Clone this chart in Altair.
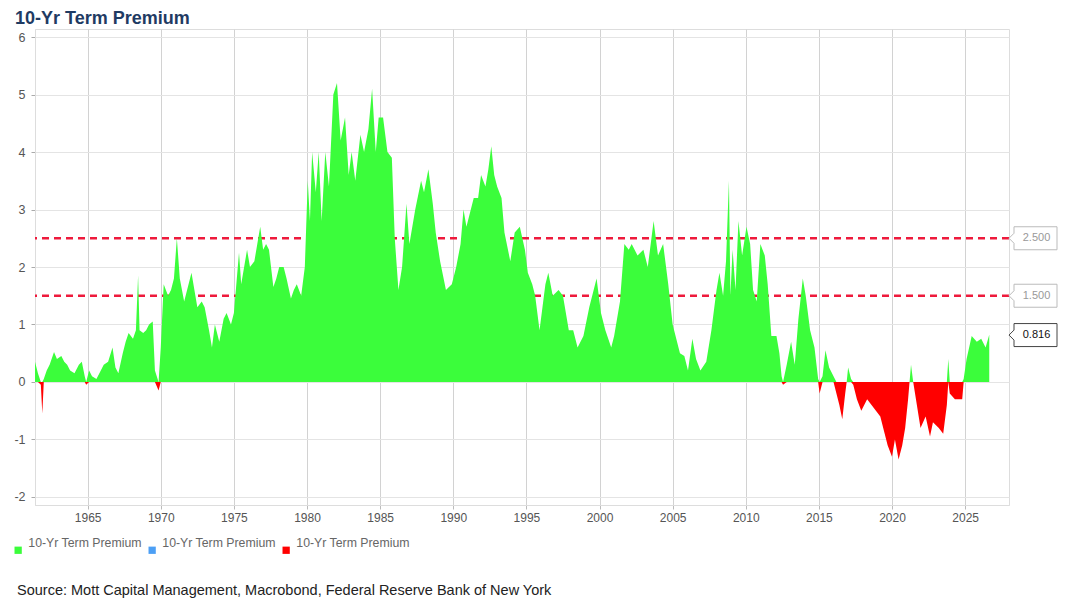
import altair as alt
import pandas as pd

years = [
    1961.4, 1961.6, 1961.8, 1961.9, 1962.0, 1962.2, 1962.4, 1962.7, 1962.9, 1963.2,
    1963.4, 1963.6, 1963.8, 1964.1, 1964.4, 1964.6, 1964.8, 1964.9, 1965.1, 1965.3,
    1965.6, 1965.9, 1966.1, 1966.4, 1966.7, 1966.9, 1967.1, 1967.4, 1967.6, 1967.8,
    1968.1, 1968.3, 1968.45, 1968.55, 1968.8, 1969.0, 1969.2, 1969.45, 1969.6, 1969.85,
    1970.0, 1970.2, 1970.5, 1970.7, 1970.9, 1971.1, 1971.3, 1971.6, 1971.8, 1972.1,
    1972.3, 1972.5, 1972.8, 1973.0, 1973.3, 1973.5, 1973.7, 1974.0, 1974.3, 1974.5,
    1974.8, 1975.0, 1975.2, 1975.35, 1975.5, 1975.9, 1976.1, 1976.4, 1976.6, 1976.8,
    1977.0, 1977.2, 1977.4, 1977.7, 1977.9, 1978.1, 1978.4, 1978.6, 1978.9, 1979.1,
    1979.3, 1979.6, 1979.85, 1980.05, 1980.2, 1980.35, 1980.6, 1980.8, 1981.0, 1981.25,
    1981.5, 1981.8, 1982.05, 1982.3, 1982.6, 1982.85, 1983.05, 1983.3, 1983.65, 1983.9,
    1984.2, 1984.45, 1984.7, 1984.9, 1985.2, 1985.5, 1985.8, 1986.0, 1986.25, 1986.5,
    1986.8, 1987.0, 1987.4, 1987.8, 1988.0, 1988.3, 1988.6, 1988.8, 1989.1, 1989.5,
    1989.9, 1990.2, 1990.5, 1990.7, 1990.9, 1991.1, 1991.4, 1991.7, 1991.9, 1992.2,
    1992.4, 1992.6, 1992.8, 1993.0, 1993.3, 1993.5, 1993.9, 1994.2, 1994.55, 1994.9,
    1995.1, 1995.4, 1995.6, 1995.9, 1996.1, 1996.3, 1996.5, 1996.8, 1997.2, 1997.5,
    1997.9, 1998.2, 1998.5, 1998.9, 1999.3, 1999.8, 2000.1, 2000.4, 2000.8, 2001.0,
    2001.4, 2001.7, 2002.0, 2002.2, 2002.6, 2003.0, 2003.3, 2003.7, 2004.0, 2004.35,
    2004.7, 2005.0, 2005.5, 2005.8, 2006.05, 2006.35, 2006.6, 2006.9, 2007.3, 2007.65,
    2008.0, 2008.2, 2008.45, 2008.65, 2008.85, 2008.95, 2009.1, 2009.3, 2009.5, 2009.75,
    2010.05, 2010.3, 2010.5, 2010.75, 2011.0, 2011.3, 2011.5, 2011.75, 2012.1, 2012.3,
    2012.45, 2012.55, 2012.8, 2013.1, 2013.35, 2013.6, 2013.9, 2014.1, 2014.4, 2014.7,
    2014.95, 2015.05, 2015.25, 2015.45, 2015.7, 2016.0, 2016.2, 2016.4, 2016.6, 2016.8,
    2016.9, 2017.0, 2017.2, 2017.35, 2017.6, 2017.9, 2018.3, 2018.6, 2018.9, 2019.2,
    2019.5, 2019.7, 2020.0, 2020.2, 2020.45, 2020.7, 2020.9, 2021.1, 2021.2, 2021.3,
    2021.45, 2021.7, 2021.95, 2022.3, 2022.6, 2022.8, 2023.2, 2023.5, 2023.75, 2023.85,
    2023.95, 2024.3, 2024.8, 2024.9, 2025.1, 2025.45, 2025.8, 2026.1, 2026.4, 2026.65,
]

premium = [
    0.35, 0.15, -0.05, -0.55, 0.05, 0.2, 0.3, 0.52, 0.4, 0.45,
    0.35, 0.3, 0.2, 0.15, 0.3, 0.35, 0.1, -0.05, 0.2, 0.1,
    0.05, 0.2, 0.3, 0.35, 0.6, 0.25, 0.15, 0.5, 0.7, 0.85,
    0.75, 0.9, 1.85, 0.9, 0.85, 0.9, 1.0, 1.05, 0.2, -0.15,
    0.6, 1.7, 1.5, 1.6, 1.8, 2.5, 1.8, 1.4, 1.6, 1.9,
    1.6, 1.3, 1.4, 1.3, 0.9, 0.6, 1.0, 0.7, 1.1, 1.2,
    1.0, 1.2, 1.8, 2.25, 1.7, 2.3, 2.0, 2.1, 2.4, 2.7,
    2.3, 2.4, 2.3, 1.65, 1.8, 2.0, 2.0, 1.8, 1.45, 1.6,
    1.7, 1.5, 2.0, 3.5, 2.8, 4.0, 3.3, 4.0, 2.8, 4.0,
    3.4, 5.0, 5.2, 4.2, 4.6, 3.6, 4.0, 3.5, 4.3, 4.0,
    4.4, 5.1, 4.0, 4.6, 4.6, 4.0, 3.9, 2.5, 1.6, 2.0,
    3.1, 2.4, 3.0, 3.5, 3.3, 3.7, 3.1, 2.6, 2.1, 1.6,
    1.7, 2.0, 2.4, 3.0, 2.7, 2.9, 3.2, 3.2, 3.6, 3.4,
    3.7, 4.1, 3.6, 3.4, 3.2, 2.6, 2.1, 2.6, 2.7, 2.3,
    1.9, 1.7, 1.5, 0.9, 1.3, 1.7, 1.9, 1.5, 1.6, 1.5,
    0.9, 0.9, 0.6, 0.8, 1.3, 1.8, 1.2, 0.9, 0.6, 0.8,
    1.4, 2.4, 2.3, 2.4, 2.2, 2.3, 2.0, 2.8, 2.2, 2.4,
    1.7, 1.0, 0.5, 0.45, 0.2, 0.75, 0.4, 0.2, 0.35, 0.9,
    1.6, 1.9, 1.5, 2.1, 3.5, 1.5, 2.3, 1.6, 2.8, 2.2,
    2.7, 2.4, 1.6, 1.4, 2.4, 2.2, 1.7, 0.8, 0.8, 0.5,
    0.1, -0.05, 0.3, 0.7, 0.3, 1.1, 1.8, 1.5, 0.9, 0.6,
    0.05, -0.2, 0.1, 0.55, 0.25, 0.1, -0.2, -0.4, -0.65, -0.2,
    0.0, 0.25, 0.05, -0.05, -0.3, -0.5, -0.3, -0.4, -0.5, -0.6,
    -0.9, -1.1, -1.3, -1.0, -1.35, -1.1, -0.8, -0.3, 0.0, 0.3,
    0.0, -0.4, -0.8, -0.6, -0.95, -0.7, -0.8, -0.9, -0.4, 0.4,
    -0.2, -0.3, -0.3, 0.05, 0.4, 0.8, 0.7, 0.75, 0.6, 0.82,
]

ref_levels = [2.5, 1.5]
ref_labels = ["2.500", "1.500"]
last_value = 0.816
last_label = "0.816"

x_ticks = [1965, 1970, 1975, 1980, 1985, 1990, 1995, 2000, 2005, 2010, 2015, 2020, 2025]
y_ticks = [-2, -1, 0, 1, 2, 3, 4, 5, 6]
x_domain = [1961.4, 2028.0]
y_domain = [-2.14, 6.14]

series_keys = ["pos", "mid", "neg"]
series_colors = ["#3bfd3b", "#4c9ff5", "#ff0000"]
series_label = "10-Yr Term Premium"
source_text = "Source: Mott Capital Management, Macrobond, Federal Reserve Bank of New York"

FONT = "Liberation Sans"

df = pd.DataFrame({"year": years, "premium": premium})

xenc = alt.X(
    "year:Q",
    scale=alt.Scale(domain=x_domain, nice=False, zero=False),
    axis=alt.Axis(values=x_ticks, format="d", title=None, grid=True,
                  gridColor="#d2d2d2", gridWidth=1, domainColor="#dddddd",
                  tickColor="#bbbbbb", tickSize=4, labelFontSize=12,
                  labelColor="#555555", labelPadding=3, labelFont=FONT),
)
yscale = alt.Scale(domain=y_domain, nice=False, zero=False)
yaxis = alt.Axis(values=y_ticks, labelExpr="'' + datum.value", title=None, grid=True,
                 gridColor="#e4e4e4", domainColor="#dddddd", tickColor="#aaaaaa",
                 tickSize=4, labelFontSize=12.5, labelColor="#555555", labelPadding=6,
                 labelFont=FONT)

color_scale = alt.Scale(domain=series_keys, range=series_colors)
legend = alt.Legend(
    title=None, orient="none", legendX=-23, legendY=515, direction="horizontal",
    symbolType="square", symbolSize=53, symbolStrokeWidth=0,
    labelExpr="'" + series_label + "'", labelFontSize=12.3, labelColor="#666666",
    labelFont=FONT, labelBaseline="bottom", labelOffset=4, columnPadding=4,
)

base = alt.Chart(df)

rules = alt.Chart(pd.DataFrame({"level": ref_levels})).mark_rule(
    color="#ee1a3c", strokeDash=[7, 5], strokeWidth=2.5
).encode(y=alt.Y("level:Q", scale=yscale, axis=yaxis))

pos_area = base.transform_calculate(
    val="max(datum.premium, 0)", series="'pos'"
).mark_area(interpolate="linear").encode(
    x=xenc,
    y=alt.Y("val:Q", scale=yscale, axis=yaxis),
    y2=alt.datum(0),
    color=alt.Color("series:N", scale=color_scale, legend=legend),
)

neg_area = base.transform_calculate(
    val="min(datum.premium, 0)", series="'neg'"
).mark_area(interpolate="linear").encode(
    x=xenc,
    y=alt.Y("val:Q", scale=yscale, axis=yaxis),
    y2=alt.datum(0),
    color=alt.Color("series:N", scale=color_scale, legend=legend),
)

callout_path = "M0,0 L5,-5 L5,-11.5 L48,-11.5 L48,11.5 L5,11.5 L5,5 Z"

ref_df = pd.DataFrame({"level": ref_levels, "label": ref_labels})
ref_boxes = alt.Chart(ref_df).mark_point(
    shape=callout_path, size=4, filled=True, fill="white", stroke="#bbbbbb",
    strokeWidth=1, opacity=1
).encode(x=alt.datum(x_domain[1]), y=alt.Y("level:Q", scale=yscale))
ref_text = alt.Chart(ref_df).mark_text(
    dx=27.5, align="center", baseline="middle", fontSize=11, color="#999999", font=FONT
).encode(x=alt.datum(x_domain[1]), y=alt.Y("level:Q", scale=yscale), text="label:N")

last_df = pd.DataFrame({"level": [last_value], "label": [last_label]})
last_box = alt.Chart(last_df).mark_point(
    shape=callout_path, size=4, filled=True, fill="white", stroke="#444444",
    strokeWidth=1, opacity=1
).encode(x=alt.datum(x_domain[1]), y=alt.Y("level:Q", scale=yscale))
last_text = alt.Chart(last_df).mark_text(
    dx=27.5, align="center", baseline="middle", fontSize=11, color="#111111", font=FONT
).encode(x=alt.datum(x_domain[1]), y=alt.Y("level:Q", scale=yscale), text="label:N")

source = alt.Chart(pd.DataFrame({"t": [source_text]})).mark_text(
    align="left", baseline="middle", fontSize=14.5, color="#222222", font=FONT
).encode(x=alt.value(-18), y=alt.value(562), text="t:N")

chart = alt.layer(
    rules, pos_area, neg_area, ref_boxes, ref_text, last_box, last_text, source
).properties(
    width=974, height=476,
    title=alt.Title("10-Yr Term Premium", anchor="start", frame="group", fontSize=18,
                    font=FONT, fontWeight="bold", color="#1f3b63", dx=-20, offset=1),
    autosize=alt.AutoSizeParams(type="none"),
    padding={"left": 27, "top": 21, "right": 60, "bottom": 95},
).configure_view(strokeWidth=0).configure(font=FONT)

chart.save("out.html", embed_options={"renderer": "svg", "actions": False})
